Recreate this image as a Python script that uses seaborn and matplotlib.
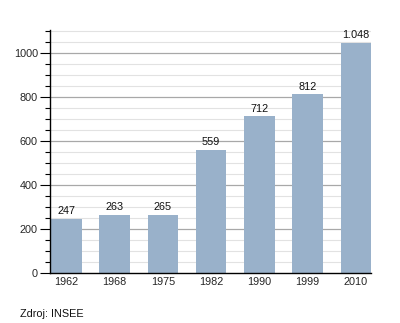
import matplotlib
matplotlib.use("Agg")
import matplotlib.pyplot as plt
from matplotlib.ticker import MultipleLocator
import seaborn as sns
import pandas as pd

years = ["1962", "1968", "1975", "1982", "1990", "1999", "2010"]
population = [247, 263, 265, 559, 712, 812, 1048]
y_ticks = [0, 200, 400, 600, 800, 1000]
source = "Zdroj: INSEE"

sns.set_theme(style="white")
plt.rcParams["font.family"] = ["Liberation Sans", "DejaVu Sans"]

df = pd.DataFrame({"year": years, "population": population})

fig = plt.figure(figsize=(4.0, 3.23), dpi=100)
ax = fig.add_axes([0.126, 0.155, 0.801, 0.752])

# grid: light lines every 50, darker every 200
for v in range(50, 1101, 50):
    if v % 200 == 0:
        ax.axhline(v, color="#a8a8a8", lw=0.9, zorder=0)
    else:
        ax.axhline(v, color="#e2e2e2", lw=0.8, zorder=0)

sns.barplot(data=df, x="year", y="population", color="#99b1ca",
            saturation=1, width=0.63, linewidth=0, ax=ax, zorder=2)

labels = [f"{v:,}".replace(",", ".") for v in population]
ax.bar_label(ax.containers[0], labels=labels, padding=2, fontsize=7.8,
             color="#111111")

ax.set_xlim(-0.33, 6.31)
ax.set_ylim(0, 1105)
ax.set_yticks(y_ticks)
ax.yaxis.set_minor_locator(MultipleLocator(50))
ax.tick_params(axis="y", which="major", length=7, width=0.8, labelsize=7.8,
               left=True, color="black", pad=2)
ax.tick_params(axis="y", which="minor", length=3.5, width=0.8, left=True,
               color="black")
ax.tick_params(axis="x", length=0, labelsize=7.8, pad=3)
ax.set_xlabel("")
ax.set_ylabel("")

for side in ["top", "right"]:
    ax.spines[side].set_visible(False)
for side in ["left", "bottom"]:
    ax.spines[side].set_color("black")
    ax.spines[side].set_linewidth(1.0)

fig.text(0.05, 0.02, source, fontsize=7.8, color="#111111")

fig.savefig("out.png", dpi=100, facecolor="white")
